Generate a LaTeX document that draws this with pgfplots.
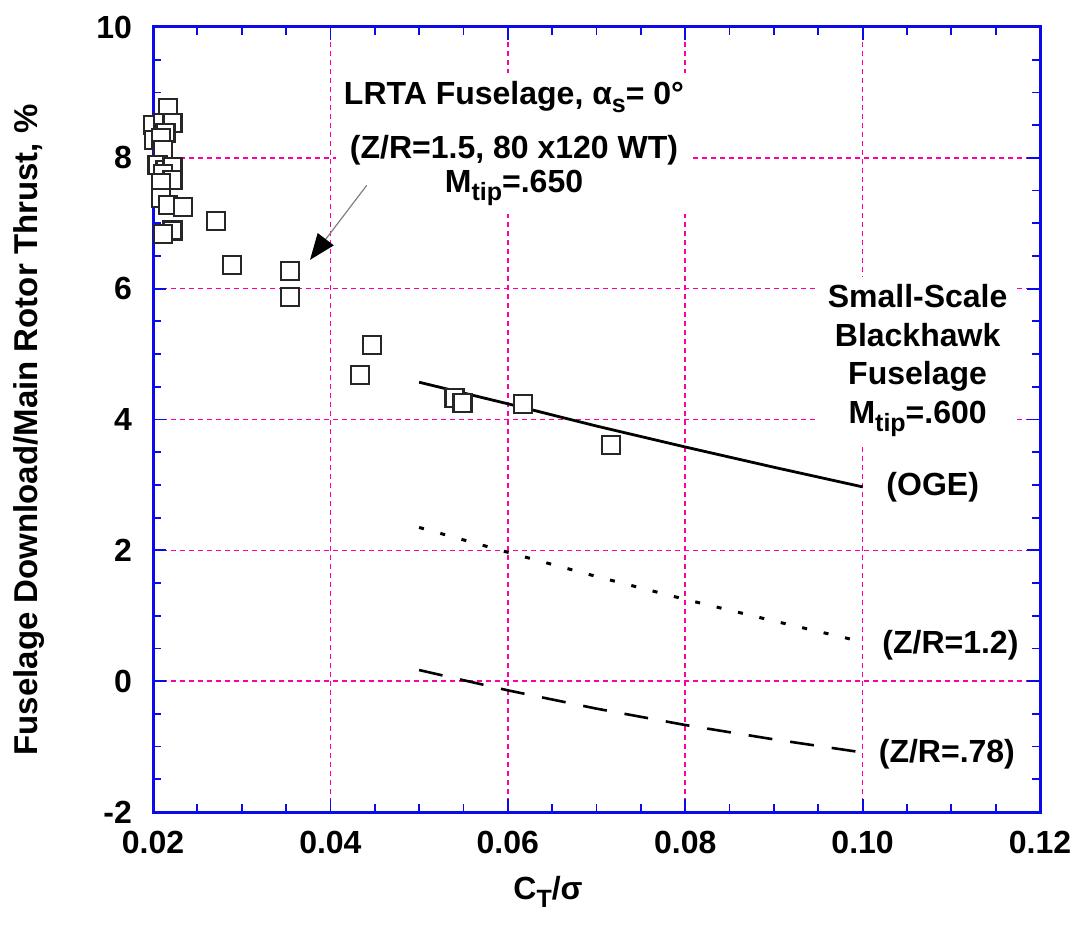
\documentclass[border=0pt]{standalone}
\usepackage{fontspec}
\setmainfont{Liberation Sans}
\usepackage{pgfplots}
\usepackage{pgfplotstable}
\pgfplotsset{compat=1.18}
\usetikzlibrary{arrows.meta}
\definecolor{gridpink}{RGB}{255,0,160}
\definecolor{frameblue}{RGB}{10,10,235}
\newcommand{\sub}[2][-4pt]{\raisebox{#1}{\fontsize{12.5}{13}\selectfont #2}}

\pgfplotstableread{
x y
0.0217 8.76
0.0200 8.50
0.0211 8.53
0.0222 8.53
0.0214 8.38
0.0201 8.27
0.0209 8.30
0.0211 8.12
0.0205 7.89
0.0214 7.81
0.0222 7.86
0.0211 7.75
0.0222 7.66
0.0209 7.61
0.0209 7.39
0.0217 7.28
0.0234 7.25
0.0222 6.89
0.0211 6.83
0.0271 7.03
0.0289 6.36
0.0354 6.27
0.0354 5.87
0.0433 4.68
0.0447 5.14
0.0540 4.33
0.0549 4.25
0.0617 4.24
0.0716 3.61
}\lrta

\pgfplotstableread{
x y
0.05 4.57
0.06 4.24
0.07 3.90
0.08 3.58
0.09 3.27
0.10 2.97
}\oge

\pgfplotstableread{
x y
0.05 2.35
0.06 1.97
0.07 1.60
0.08 1.25
0.09 0.92
0.10 0.60
}\zra

\pgfplotstableread{
x y
0.05 0.17
0.06 -0.14
0.07 -0.42
0.08 -0.67
0.09 -0.89
0.10 -1.09
}\zrb

\begin{document}
\begin{tikzpicture}[font=\fontsize{16}{19}\selectfont\bfseries]
\useasboundingbox (-76.5pt,-60pt) rectangle (460.5pt,406pt);
\begin{axis}[
  at={(0pt,0pt)}, anchor=south west,
  scale only axis, width=443.5pt, height=392.5pt,
  xmin=0.02, xmax=0.12, ymin=-2, ymax=10,
  xtick={0.02,0.04,0.06,0.08,0.10,0.12},
  xticklabels={0.02,0.04,0.06,0.08,0.10,0.12},
  ytick={-2,0,2,4,6,8,10},
  yticklabels={-2,0,2,4,6,8,10},
  scaled x ticks=false,
  minor x tick num=3, minor y tick num=3,
  tick align=inside,
  major tick length=6.5pt, minor tick length=4pt,
  tick style={frameblue, line width=0.9pt},
  axis line style={frameblue, line width=1.5pt},
  grid=major,
  major grid style={gridpink, line width=0.8pt, dash pattern=on 2.5pt off 2pt},
  tick label style={font=\fontsize{16}{19}\selectfont\bfseries, black},
  xticklabel style={yshift=-6pt},
  yticklabel style={xshift=-7pt},
]
\addplot[black, line width=1.4pt] table[x=x,y=y] {\oge};
\addplot[black, line width=1.5pt, dash pattern=on 2.5pt off 8.5pt] table[x=x,y=y] {\zra};
\addplot[black, line width=1.3pt, dash pattern=on 12pt off 9pt] table[x=x,y=y] {\zrb};
\addplot[only marks, mark=square*, mark size=4.5pt,
  mark options={fill=white, draw=black!85, line width=1.1pt}] table[x=x,y=y] {\lrta};

\node[fill=white, inner sep=4pt, align=center, anchor=north,
  font=\fontsize{16}{17}\selectfont\bfseries] at (axis cs:0.0607,9.30)
  {LRTA Fuselage, α\sub{s}= 0°\\[10pt](Z/R=1.5, 80 x120 WT)\\M\sub{tip}=.650};
\draw[gray, line width=0.6pt, -{Triangle[length=13pt,width=10pt,color=black,fill=black]}]
  (axis cs:0.0441,7.58) -- (axis cs:0.0377,6.44);

\node[fill=white, inner ysep=4pt, inner xsep=5pt, align=center, anchor=north,
  font=\fontsize{16}{19.2}\selectfont\bfseries] at (axis cs:0.1062,6.19)
  {Small-Scale\\Blackhawk\\Fuselage\\M\sub{tip}=.600};

\node[anchor=base] at (axis cs:0.1079,2.84) {(OGE)};
\node[anchor=base] at (axis cs:0.1099,0.43) {(Z/R=1.2)};
\node[anchor=base] at (axis cs:0.1095,-1.24) {(Z/R=.78)};
\end{axis}
\node[rotate=90, font=\fontsize{16.5}{19}\selectfont\bfseries] at (-62pt,191pt)
  {Fuselage Download/Main Rotor Thrust, \%};
\node[anchor=base] at (197.5pt,-43.5pt) {C\sub{T}/σ};
\end{tikzpicture}
\end{document}
